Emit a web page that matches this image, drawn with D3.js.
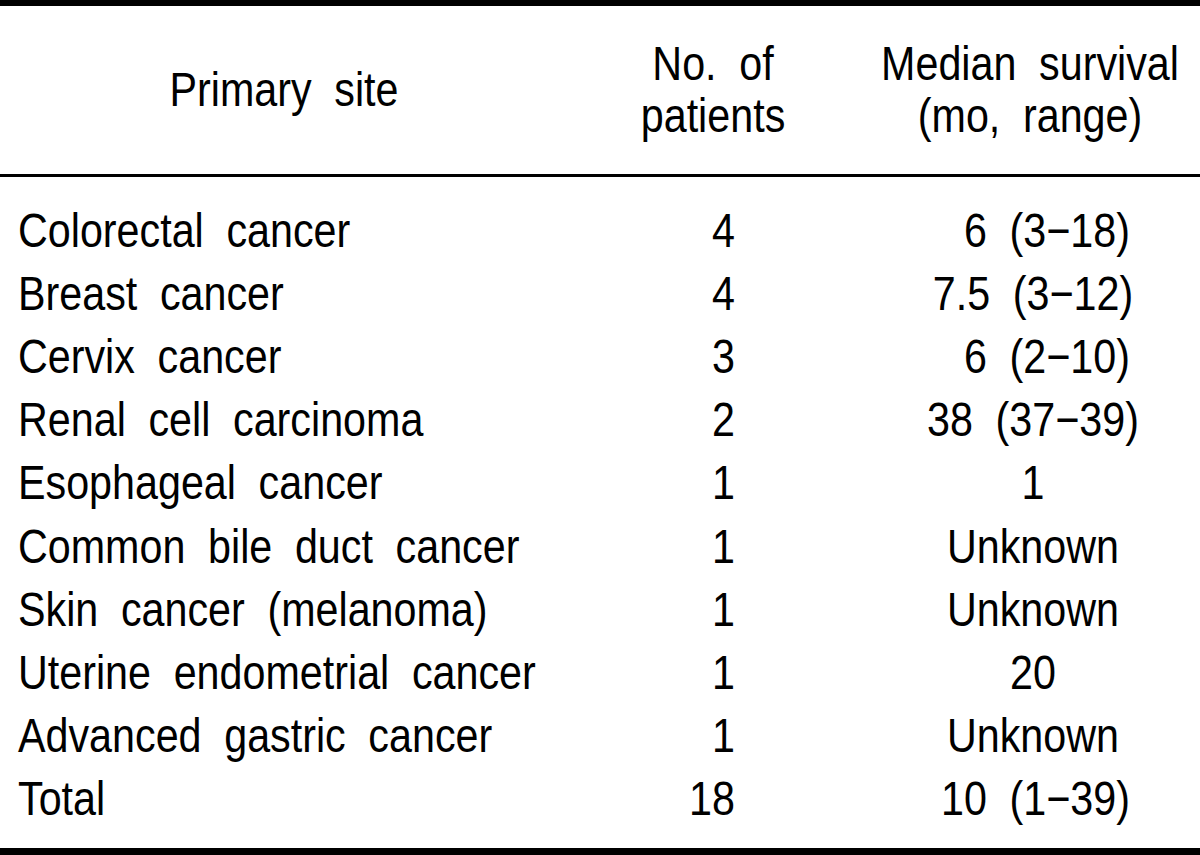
<!DOCTYPE html>
<html>
<head>
<meta charset="utf-8">
<script src="https://cdn.jsdelivr.net/npm/d3@7"></script>
<style>
  body { margin: 0; background: #fff; }
  text { font-family: "Liberation Sans", Arial, sans-serif; font-size: 48px; fill: #000; word-spacing: 13px; }
</style>
</head>
<body>
<div id="table"></div>
<script>
var svgWidth = 1200;
var svgHeight = 855;

var headers = [["Primary site"], ["No. of", "patients"], ["Median survival", "(mo, range)"]];

var sites = [
  "Colorectal cancer",
  "Breast cancer",
  "Cervix cancer",
  "Renal cell carcinoma",
  "Esophageal cancer",
  "Common bile duct cancer",
  "Skin cancer (melanoma)",
  "Uterine endometrial cancer",
  "Advanced gastric cancer",
  "Total"
];
var patients = [4, 4, 3, 2, 1, 1, 1, 1, 1, 18];
var survival = ["6 (3\u221218)", "7.5 (3\u221212)", "6 (2\u221210)", "38 (37\u221239)", "1",
  "Unknown", "Unknown", "20", "Unknown", "10 (1\u221239)"];

var sx = 0.86; // condensed look of the original font

var svg = d3.select("#table")
  .append("svg")
  .attr("width", svgWidth)
  .attr("height", svgHeight);

var rowY = d3.scaleLinear()
  .domain([0, sites.length - 1])
  .range([247, 815]);

// rules
svg.append("rect").attr("x", 0).attr("y", 0).attr("width", svgWidth).attr("height", 6).attr("fill", "#000");
svg.append("rect").attr("x", 0).attr("y", 174).attr("width", svgWidth).attr("height", 3).attr("fill", "#000");
svg.append("rect").attr("x", 0).attr("y", 848).attr("width", svgWidth).attr("height", 7).attr("fill", "#000");

function put(txt, x, y, anchor) {
  svg.append("text")
    .attr("transform", `translate(${x}, ${y}) scale(${sx}, 1)`)
    .attr("text-anchor", anchor)
    .text(txt);
}

// header
var headX = [284, 713, 1030];
headers.forEach(function(lines, i) {
  if (lines.length === 1) {
    put(lines[0], headX[i], 106, "middle");
  } else {
    put(lines[0], headX[i], 80, "middle");
    put(lines[1], headX[i], 132, "middle");
  }
});

// body
sites.forEach(function(s, i) {
  put(s, 18, rowY(i), "start");
  put(String(patients[i]), 735, rowY(i), "end");
  if (survival[i].indexOf("(") >= 0 && survival[i].length < 10) {
    put(survival[i], 1130, rowY(i), "end");
  } else {
    put(survival[i], 1033, rowY(i), "middle");
  }
});
</script>
</body>
</html>
